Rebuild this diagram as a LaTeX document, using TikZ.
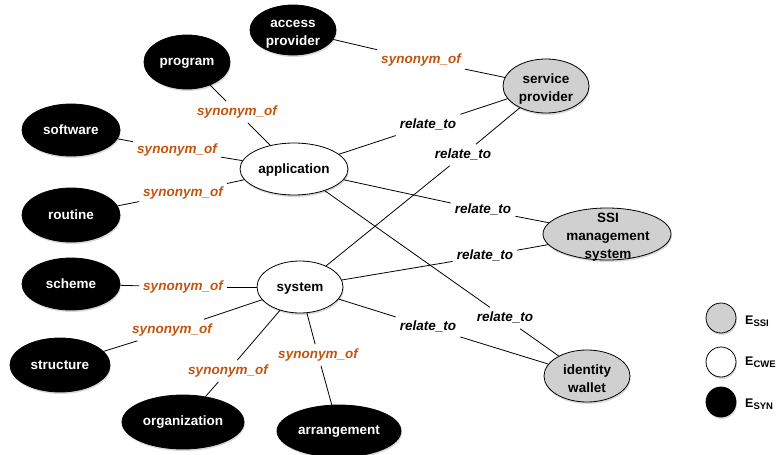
\documentclass[tikz,border=0pt]{standalone}
\usepackage{fontspec}
\setmainfont{Liberation Sans}
\usetikzlibrary{shapes.geometric,shadows}
\definecolor{synorange}{RGB}{195,84,14}
\definecolor{ssigray}{RGB}{208,208,208}
% invisible strut giving every entity line the same ascender and descender
\newcommand\entstrut{\rule[-2.8pt]{0pt}{13.6pt}}
\begin{document}
\begin{tikzpicture}[x=1pt,y=-1pt,
  font=\fontsize{13.5}{18}\selectfont\bfseries,
  enttext/.style={align=center, inner sep=0pt,
    execute at begin node=\entstrut, execute at end node=\entstrut},
  ent/.style={enttext, ellipse, draw=black, line width=0.8pt,
    drop shadow={opacity=0.3, shadow xshift=0.8pt, shadow yshift=-2pt}},
  synent/.style={ent, fill=black, text=white},
  cweent/.style={ent, fill=white},
  ssient/.style={ent, fill=ssigray},
  sz/.style 2 args={minimum width=#1pt, minimum height=#2pt},
  % text of two- and three-line entities, set over its empty ellipse
  multitext/.style={enttext, yshift=-3pt},
  lbl/.style={inner sep=4pt, text height=10.4pt, text depth=2.8pt,
    font=\fontsize{13.5}{16}\selectfont\bfseries\itshape},
  synlbl/.style={lbl, text=synorange},
  rellbl/.style={lbl, text=black},
  link/.style={line width=0.8pt, draw=black},
  legtext/.style={anchor=west, inner sep=0pt, font=\fontsize{12.5}{14}\selectfont\bfseries},
]
\useasboundingbox (0,0) rectangle (777,455);

% synonym entities
\node[synent, sz={86}{50}]  (access)       at (293,30)  {};
\node[multitext, text=white] (access-text) at (access) {\entstrut access\\provider};
\node[synent, sz={86}{54}]  (program)      at (187,62)  {program};
\node[synent, sz={98}{52}]  (software)     at (71,130)  {software};
\node[synent, sz={98}{54}]  (routine)      at (71,215)  {routine};
\node[synent, sz={98}{52}]  (scheme)       at (71,284)  {scheme};
\node[synent, sz={100}{54}] (structure)    at (60,365)  {structure};
\node[synent, sz={122}{54}] (organization) at (183,422) {organization};
\node[synent, sz={124}{52}] (arrangement)  at (339,431) {arrangement};

% CWE entities
\node[cweent, sz={108}{52}] (application) at (294,169) {application};
\node[cweent, sz={86}{52}]  (system)      at (300,287) {system};

% SSI entities
\node[ssient, sz={86}{54}]  (service) at (546,86)  {};
\node[multitext] (service-text) at (service) {\entstrut service\\provider};
\node[ssient, sz={128}{52}] (ssims)   at (607,234) {};
\node[enttext] (ssims-text) at (608,236.5) {\entstrut SSI\\management\\system};
\node[ssient, sz={86}{52}]  (wallet)  at (587,376) {};
\node[multitext] (wallet-text) at (wallet) {\entstrut identity\\wallet};

% relation labels
\node[synlbl] (s-acc)  at (421,60)  {synonym\_of};
\node[synlbl] (s-prog) at (237,112) {synonym\_of};
\node[synlbl] (s-soft) at (177,150) {synonym\_of};
\node[synlbl] (s-rout) at (183,193) {synonym\_of};
\node[synlbl] (s-sch)  at (183,287) {synonym\_of};
\node[synlbl] (s-str)  at (172,330) {synonym\_of};
\node[synlbl] (s-org)  at (228,371) {synonym\_of};
\node[synlbl] (s-arr)  at (318,355) {synonym\_of};

\node[rellbl] (r-appsp)  at (428,125) {relate\_to};
\node[rellbl] (r-syssp)  at (463,155) {relate\_to};
\node[rellbl] (r-appssi) at (483,210) {relate\_to};
\node[rellbl] (r-sysssi) at (485,256) {relate\_to};
\node[rellbl] (r-appw)   at (505,318) {relate\_to};
\node[rellbl] (r-sysw)   at (428,327) {relate\_to};

% connectors, broken by their labels
\draw[link] (s-acc)  edge (access)       edge (service);
\draw[link] (s-prog) edge (program)      edge (application);
\draw[link] (s-soft) edge (software)     edge (application);
\draw[link] (s-rout) edge (routine)      edge (application);
\draw[link] (s-sch)  edge (scheme)       edge (system);
\draw[link] (s-str)  edge (structure)    edge (system);
\draw[link] (s-org)  edge (organization) edge (system);
\draw[link] (s-arr)  edge (arrangement)  edge (system);
\draw[link] (r-appsp)  edge (application) edge (service);
\draw[link] (r-syssp)  edge (system)      edge (service);
\draw[link] (r-appssi) edge (application) edge (ssims);
\draw[link] (r-sysssi) edge (system)      edge (ssims);
\draw[link] (r-appw)   edge (application) edge (wallet);
\draw[link] (r-sysw)   edge (system)      edge (wallet);

% legend
\node[ssient, sz={30}{30}] (leg-ssi) at (721,318) {};
\node[cweent, sz={30}{30}] (leg-cwe) at (721,362) {};
\node[synent, sz={30}{30}] (leg-syn) at (721,402) {};
\node[legtext] (leg-ssi-t) at (745,321) {E\raisebox{-2.5pt}{\fontsize{9.5}{10}\selectfont SSI}};
\node[legtext] (leg-cwe-t) at (745,362) {E\raisebox{-2.5pt}{\fontsize{9.5}{10}\selectfont CWE}};
\node[legtext] (leg-syn-t) at (745,404) {E\raisebox{-2.5pt}{\fontsize{9.5}{10}\selectfont SYN}};
\end{tikzpicture}
\end{document}
